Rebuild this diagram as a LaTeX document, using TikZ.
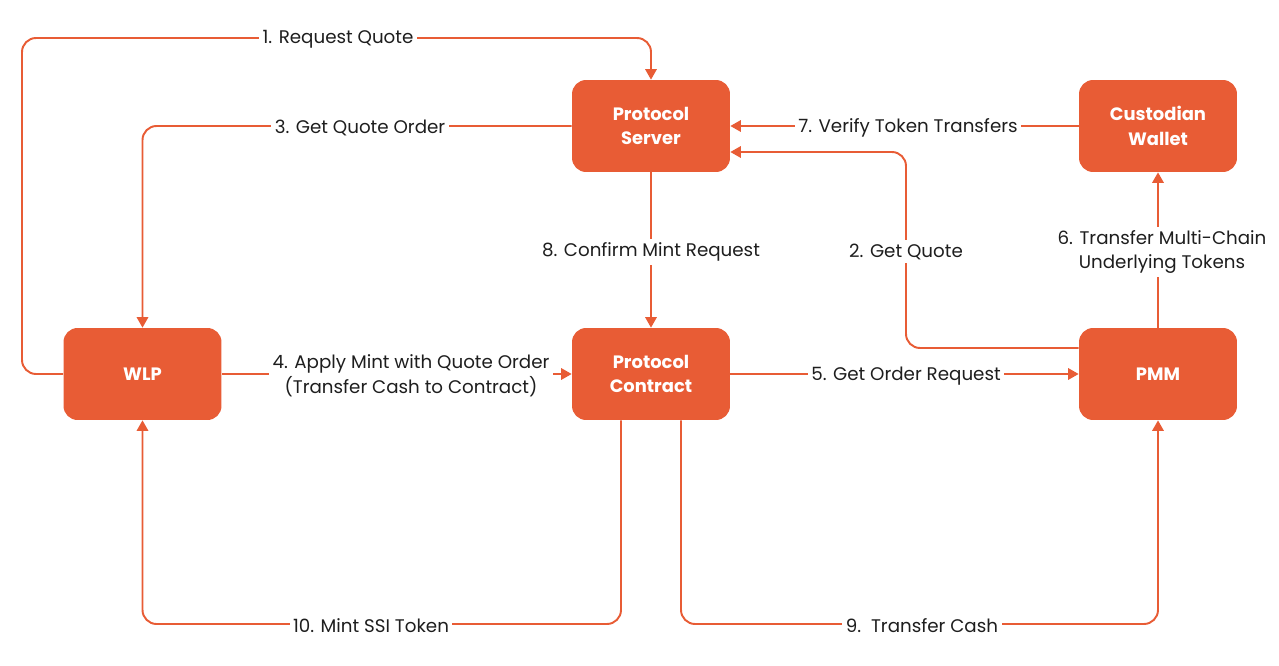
\documentclass[tikz,border=0pt]{standalone}
\usepackage{fontspec}
\setmainfont{Poppins}
\usetikzlibrary{arrows.meta,calc}
\definecolor{brand}{HTML}{E85C35}
\definecolor{ink}{HTML}{1E1E1E}
\tikzset{
  box/.style={fill=brand, draw=none, rounded corners=8pt, minimum width=3.16cm, minimum height=1.84cm,
    text=white, font=\bfseries\fontsize{10.2}{14}\selectfont, align=center},
  conn/.style={draw=brand, line width=1.1pt, rounded corners=8pt, -{Triangle[length=6pt,width=6.5pt]}},
  lbl/.style={fill=white, text=ink, font=\fontsize{10.4}{13.8}\selectfont, align=center, inner sep=2pt, yshift=-1pt}
}
\begin{document}
\begin{tikzpicture}[x=0.02cm,y=-0.02cm]
\useasboundingbox (0,0) rectangle (1279,666);
\node[box] (ps) at (651,126) {Protocol\\Server};
\node[box] (cw) at (1158,126) {Custodian\\Wallet};
\node[box] (wlp) at (142.5,374) {WLP};
\node[box] (pc) at (651,374) {Protocol\\Contract};
\node[box] (pmm) at (1158,374) {PMM};
\coordinate (c1a) at (22,374);
\coordinate (c1b) at (22,38);
\coordinate (c1c) at (651,38);
\draw[conn] (wlp.west) -- (c1a) -- (c1b) -- (c1c) -- (ps.north);
\coordinate (c3a) at (142.5,126);
\draw[conn] (ps.west) -- (c3a) -- (wlp.north);
\coordinate (c2a) at (906,348);
\coordinate (c2b) at (906,152);
\draw[conn] ($(pmm.west)+(0,-26)$) -- (c2a) -- (c2b) -- ($(ps.east)+(0,26)$);
\draw[conn] (cw.west) -- (ps.east);
\draw[conn] (ps.south) -- (pc.north);
\draw[conn] (wlp.east) -- (pc.west);
\draw[conn] (pc.east) -- (pmm.west);
\draw[conn] (pmm.north) -- (cw.south);
\coordinate (c10a) at (621,624);
\coordinate (c10b) at (142.5,624);
\draw[conn] ($(pc.south)+(-30,0)$) -- (c10a) -- (c10b) -- (wlp.south);
\coordinate (c9a) at (681,624);
\coordinate (c9b) at (1158,624);
\draw[conn] ($(pc.south)+(30,0)$) -- (c9a) -- (c9b) -- (pmm.south);
\node[lbl] (l1) at (338,38) {1. Request Quote};
\node[lbl] (l3) at (360,126) {3. Get Quote Order};
\node[lbl] (l7) at (908,126) {7. Verify Token Transfers};
\node[lbl] (l8) at (651,250) {8. Confirm Mint Request};
\node[lbl] (l2) at (906,250) {2. Get Quote};
\node[lbl] (l6) at (1162,250) {6. Transfer Multi-Chain\\Underlying Tokens};
\node[lbl] (l4) at (411,374) {4. Apply Mint with Quote Order\\(Transfer Cash to Contract)};
\node[lbl] (l5) at (906,374) {5. Get Order Request};
\node[lbl] (l10) at (371,624) {10. Mint SSI Token};
\node[lbl] (l9) at (922,624) {9.\ \ Transfer Cash};
\end{tikzpicture}
\end{document}
